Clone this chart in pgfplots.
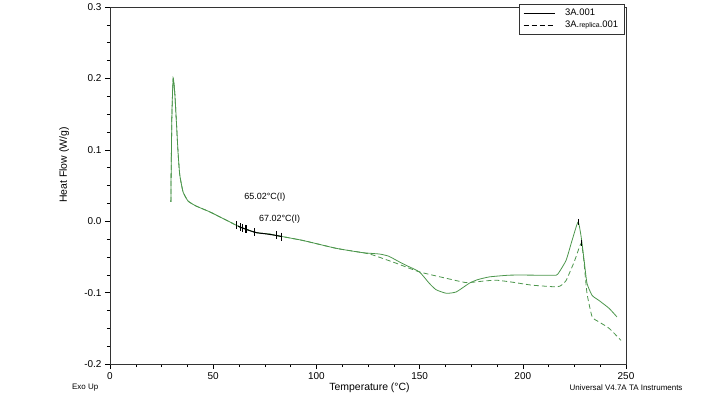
\documentclass[border=0pt]{standalone}
\usepackage{pgfplots}
\pgfplotsset{compat=1.18}
\usepackage{fontspec}
\setmainfont{Liberation Sans}
\definecolor{dscgreen}{RGB}{76,150,76}
\begin{document}
\begin{tikzpicture}
\begin{axis}[
  scale only axis,
  width=516bp, height=357bp,
  xmin=0, xmax=250, ymin=-0.2, ymax=0.3,
  xtick={0,50,100,150,200,250},
  xticklabels={0,50,100,150,200,250},
  ytick={-0.2,-0.1,0,0.1,0.2,0.3},
  yticklabels={-0.2,-0.1,0.0,0.1,0.2,0.3},
  minor x tick num=3, minor y tick num=3,
  tick align=outside,
  xtick pos=bottom, ytick pos=left,
  major tick length=5bp, minor tick length=3bp,
  tick style={black, line width=0.5pt},
  axis line style={black!80, line width=0.6pt},
  ticklabel style={font=\fontsize{10}{12}\selectfont},
  xlabel={Temperature (°C)},
  ylabel={Heat Flow (W/g)},
  xlabel style={font=\fontsize{10.5}{12}\selectfont, at={(axis description cs:0.503,-0.067)}, anchor=center},
  ylabel style={font=\fontsize{10.5}{12}\selectfont, at={(axis description cs:-0.089,0.557)}, anchor=center},
  clip=false,
  legend style={at={(axis description cs:0.997,1.009)}, anchor=north east,
    font=\fontsize{9.5}{10}\selectfont, draw=black!80, line width=0.5pt,
    inner xsep=4pt, inner ysep=3pt, row sep=0pt, column sep=8bp, cells={anchor=west}},
  legend cell align=left,
  legend image code/.code={\draw[#1] (0cm,0cm) -- (1.1cm,0cm);},
]
\addlegendimage{black, line width=0.6pt}
\addlegendentry{3A.001}
\addlegendimage{black, line width=0.6pt, dash pattern=on 5bp off 3bp}
\addlegendentry{3A.{\fontsize{7}{8}\selectfont replica}.001}

% solid curve
\addplot[dscgreen, line width=0.8pt, smooth, tension=0.3, forget plot] coordinates {
(29.5,0.027) (29.6,0.06) (30.0,0.15) (30.6,0.200) (31.4,0.179) (32.3,0.132)
(33.0,0.095) (33.8,0.065) (35.4,0.041) (37.9,0.028) (41.9,0.021) (48.4,0.013)
(56.4,0.0014) (62.9,-0.008) (70.9,-0.016) (77.4,-0.018) (80.6,-0.020)
(93.5,-0.027) (109.6,-0.038) (122.3,-0.044) (130.6,-0.046) (135,-0.049)
(140.2,-0.057) (143.6,-0.062) (149.9,-0.071) (154.7,-0.087) (158,-0.096)
(163,-0.101) (167.8,-0.099) (174,-0.087) (178,-0.082) (183.8,-0.078)
(193.4,-0.0756) (203,-0.0755) (210,-0.0757) (216.2,-0.0756) (217.6,-0.0714)
(221,-0.0546) (223.9,-0.0266) (226.8,-0.001) (228.3,-0.0224) (229.7,-0.0546)
(231.1,-0.087) (233.6,-0.104) (236.9,-0.111) (241.8,-0.122) (245.6,-0.134)
};
% dashed curve
\addplot[dscgreen, line width=0.8pt, dash pattern=on 5bp off 3bp, smooth, tension=0.3, forget plot] coordinates {
(29.5,0.027) (29.6,0.06) (30.0,0.15) (30.6,0.200) (31.4,0.179) (32.3,0.132)
(33.0,0.095) (33.8,0.065) (35.4,0.041) (37.9,0.028) (41.9,0.021) (48.4,0.013)
(56.4,0.0014) (62.9,-0.008) (70.9,-0.016) (77.4,-0.018) (80.6,-0.020)
(93.5,-0.027) (109.6,-0.038) (122.3,-0.044) (127,-0.047) (138.8,-0.059)
(149.9,-0.071) (163,-0.080) (172.6,-0.086) (180.4,-0.084) (187.1,-0.0826)
(194.9,-0.0854) (204.5,-0.0896) (216.6,-0.092) (219,-0.089) (221,-0.083)
(224.9,-0.057) (228.3,-0.031) (229.7,-0.059) (231.1,-0.101) (233.6,-0.134)
(236.9,-0.141) (241.8,-0.150) (247.6,-0.167)
};
% black analysis segment
\addplot[black, line width=1pt, smooth, forget plot] coordinates {
(62,-0.007) (66,-0.0115) (70.9,-0.016) (75,-0.0175) (80.6,-0.020) (83,-0.0215)
};
\addplot[black, only marks, mark=|, mark size=4bp, mark options={line width=0.5pt}, forget plot] coordinates {
(61.3,-0.006) (63.2,-0.0085) (64.2,-0.0095) (65.3,-0.0105) (66.1,-0.0115)
(80.6,-0.020) (83.0,-0.0215)
};
\addplot[black, only marks, mark=|, mark size=4bp, mark options={line width=1.2pt}, forget plot] coordinates {
(70.1,-0.0155)
};
\addplot[black, only marks, mark=|, mark size=3bp, mark options={line width=0.6pt}, forget plot] coordinates {
(226.8,-0.001) (228.3,-0.031)
};
\node[font=\fontsize{9}{10}\selectfont] at (axis cs:75,0.034) {65.02°C(I)};
\node[font=\fontsize{9}{10}\selectfont] at (axis cs:82.2,0.003) {67.02°C(I)};
\node[font=\fontsize{8}{9}\selectfont] at (axis description cs:-0.048,-0.067) {Exo Up};
\node[font=\fontsize{8}{9}\selectfont, anchor=west] at (axis description cs:0.884,-0.067) {Universal V4.7A TA Instruments};
\end{axis}
\path ([shift={(-110bp,-33bp)}]current axis.south west) rectangle ++(706bp,397bp);
\end{tikzpicture}
\end{document}
